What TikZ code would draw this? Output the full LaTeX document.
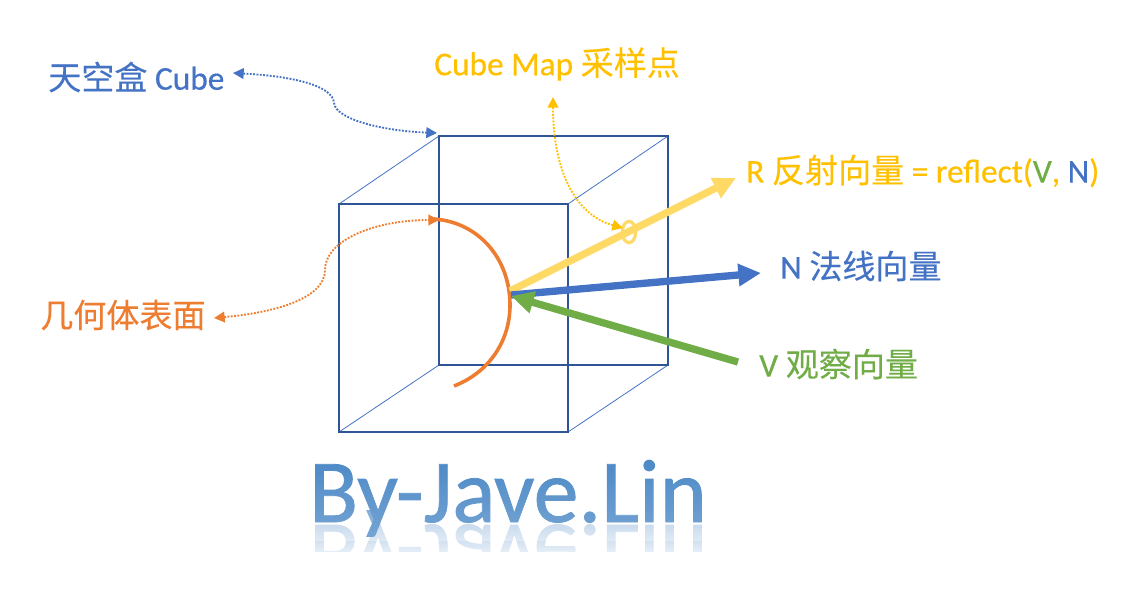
\documentclass[tikz,border=0pt]{standalone}
\usepackage{fontspec}
\setmainfont[FakeBold=0.45]{Carlito}
\newfontfamily\cjkfont[FakeBold=0.2]{Noto Sans CJK SC}
\usepackage{xcolor}
\usepackage{tikz}
\usetikzlibrary{shapes.geometric, arrows.meta, positioning, calc, fadings}
\definecolor{cubedark}{RGB}{47,85,151}
\definecolor{cubeblue}{RGB}{68,114,196}
\definecolor{surforange}{RGB}{237,125,49}
\definecolor{mapgold}{RGB}{255,192,0}
\definecolor{reflyellow}{RGB}{255,217,102}
\definecolor{viewgreen}{RGB}{112,173,71}
\definecolor{titleblue}{RGB}{56,124,192}
\newcommand{\zh}[1]{{\cjkfont\fontsize{24.8}{25}\selectfont #1}}
\tikzset{
  lbl/.style={font=\fontsize{25}{25}\selectfont, anchor=west, inner sep=0pt},
  face/.style={draw=cubedark, line width=1.5pt},
  edge/.style={draw=cubeblue, line width=0.6pt},
  note/.style={dash pattern=on 1.4pt off 1.1pt, line width=1.4pt, {Triangle[length=8pt,width=8pt]}-{Triangle[length=8pt,width=8pt]}},
  vect/.style={line width=5.5pt, -{Triangle[length=17pt,width=16pt]}},
  big/.style={font=\fontsize{67.5}{68}\selectfont\addfontfeature{FakeBold=0.9}, anchor=base, inner sep=0pt}
}
\tikzfading[name=titlefade, top color=transparent!100, bottom color=transparent!58]
\tikzfading[name=mirrorfade, top color=transparent!62, bottom color=transparent!0]
\begin{document}
\begin{tikzpicture}[x=0.75pt, y=-0.75pt]
  \useasboundingbox (0,0) rectangle (1144,594);
  % cube corners
  \coordinate (fa) at (339,204);
  \coordinate (fb) at (568,204);
  \coordinate (fc) at (568,432);
  \coordinate (fd) at (339,432);
  \coordinate (ba) at (439,136);
  \coordinate (bb) at (668,136);
  \coordinate (bc) at (668,365);
  \coordinate (bd) at (439,365);
  \draw[edge] (fa) -- (ba);
  \draw[edge] (fb) -- (bb);
  \draw[edge] (fc) -- (bc);
  \draw[edge] (fd) -- (bd);
  \draw[face] (ba) -- (bb) -- (bc) -- (bd) -- cycle;
  \draw[face] (fa) -- (fb) -- (fc) -- (fd) -- cycle;
  % surface
  \coordinate (stop) at (434,219);
  \coordinate (sbot) at (454,386);
  \coordinate (speak) at (510,305);
  \draw[surforange, line width=2.7pt] (stop) .. controls (478,222) and (510,258) .. (speak)
    .. controls (510,340) and (490,372) .. (sbot);
  % labels
  \node[lbl, text=cubeblue] (sky) at (48,77) {\zh{天空盒} Cube};
  \node[lbl, text=mapgold] (map) at (434,64) {Cube Map \zh{采样点}};
  \node[lbl, text=surforange] (surf) at (40,315) {\zh{几何体表面}};
  \node[lbl, text=mapgold] (refl) at (746,171) {R \zh{反射向量} = reflect(\textcolor{viewgreen}{V}, \textcolor{cubeblue}{N})};
  \node[lbl, text=cubeblue] (norm) at (780,266) {N \zh{法线向量}};
  \node[lbl, text=viewgreen] (view) at (759,364) {V \zh{观察向量}};
  % vectors
  \coordinate (rbase) at (510,291);
  \coordinate (nbase) at (511,295);
  \coordinate (vhead) at (511,296);
  \coordinate (rtip) at (736,178);
  \coordinate (ntip) at (761,273);
  \coordinate (vtail) at (738,362);
  \draw[vect, reflyellow] (rbase) -- (rtip);
  \draw[vect, cubeblue] (nbase) -- (ntip);
  \draw[vect, viewgreen] (vtail) -- (vhead);
  \node[draw=reflyellow, line width=2.4pt, ellipse, minimum width=10pt, minimum height=16pt, inner sep=0pt] (samp) at (629,232) {};
  % notes
  \coordinate (skyend) at (233,73);
  \coordinate (cubeend) at (437,133);
  \draw[note, cubeblue] (skyend) .. controls (290,76) and (333,85) .. (334,103)
    .. controls (336,120) and (385,131) .. (cubeend);
  \coordinate (surfend) at (214,318);
  \coordinate (arcend) at (439,220);
  \draw[note, surforange] (surfend) .. controls (270,313) and (325,300) .. (325,270)
    .. controls (325,240) and (375,220) .. (arcend);
  \coordinate (mapend) at (553,97);
  \coordinate (sampend) at (623,228);
  \draw[note, mapgold] (mapend) .. controls (553,170) and (575,215) .. (sampend);
  % title and mirror
  \node[big, text=titleblue!80, yscale=-1, transform shape] (mirror) at (508,525) {By-Jave.Lin};
  \begin{scope}
    \clip (300,524) rectangle (720,594);
    \fill[white, path fading=mirrorfade] (300,510) rectangle (720,566);
    \fill[white] (300,552) rectangle (720,594);
  \end{scope}
  \node[big, text=titleblue] (title) at (508,522) {By-Jave.Lin};
  \begin{scope}
    \clip (300,460) rectangle (720,540);
    \fill[white, path fading=titlefade] (300,420) rectangle (720,580);
  \end{scope}
\end{tikzpicture}
\end{document}
